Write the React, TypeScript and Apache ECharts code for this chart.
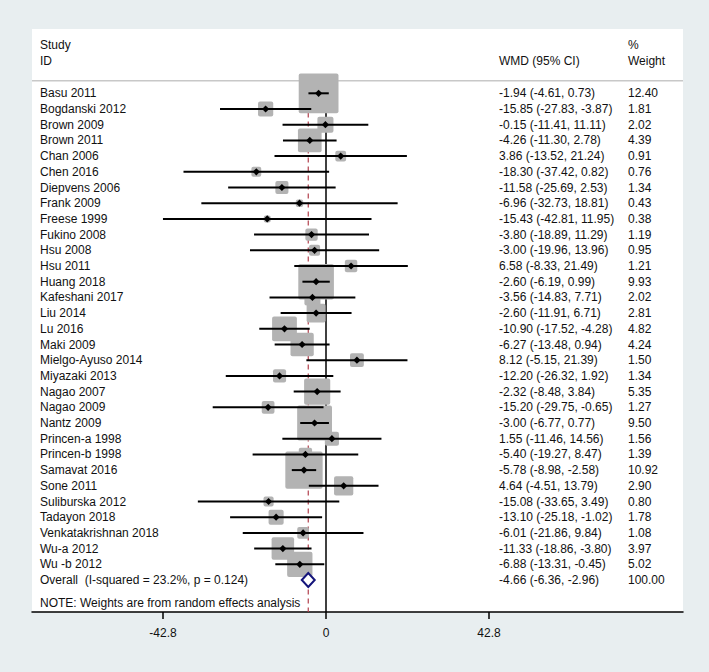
import React, { useEffect, useRef } from "react";
import * as echarts from "echarts";

// ---------- data ----------
const studies = [
  "Basu 2011", "Bogdanski 2012", "Brown 2009", "Brown 2011", "Chan 2006", "Chen 2016",
  "Diepvens 2006", "Frank 2009", "Freese 1999", "Fukino 2008", "Hsu 2008", "Hsu 2011",
  "Huang 2018", "Kafeshani 2017", "Liu 2014", "Lu 2016", "Maki 2009", "Mielgo-Ayuso 2014",
  "Miyazaki 2013", "Nagao 2007", "Nagao 2009", "Nantz 2009", "Princen-a 1998", "Princen-b 1998",
  "Samavat 2016", "Sone 2011", "Suliburska 2012", "Tadayon 2018", "Venkatakrishnan 2018",
  "Wu-a 2012", "Wu -b 2012",
];
const wmd = [
  -1.94, -15.85, -0.15, -4.26, 3.86, -18.30, -11.58, -6.96, -15.43, -3.80, -3.00, 6.58,
  -2.60, -3.56, -2.60, -10.90, -6.27, 8.12, -12.20, -2.32, -15.20, -3.00, 1.55, -5.40,
  -5.78, 4.64, -15.08, -13.10, -6.01, -11.33, -6.88,
];
const ciLow = [
  -4.61, -27.83, -11.41, -11.30, -13.52, -37.42, -25.69, -32.73, -42.81, -18.89, -19.96, -8.33,
  -6.19, -14.83, -11.91, -17.52, -13.48, -5.15, -26.32, -8.48, -29.75, -6.77, -11.46, -19.27,
  -8.98, -4.51, -33.65, -25.18, -21.86, -18.86, -13.31,
];
const ciHigh = [
  0.73, -3.87, 11.11, 2.78, 21.24, 0.82, 2.53, 18.81, 11.95, 11.29, 13.96, 21.49,
  0.99, 7.71, 6.71, -4.28, 0.94, 21.39, 1.92, 3.84, -0.65, 0.77, 14.56, 8.47,
  -2.58, 13.79, 3.49, -1.02, 9.84, -3.80, -0.45,
];
const weights = [
  12.40, 1.81, 2.02, 4.39, 0.91, 0.76, 1.34, 0.43, 0.38, 1.19, 0.95, 1.21,
  9.93, 2.02, 2.81, 4.82, 4.24, 1.50, 1.34, 5.35, 1.27, 9.50, 1.56, 1.39,
  10.92, 2.90, 0.80, 1.78, 1.08, 3.97, 5.02,
];
const overallLabel = "Overall  (I-squared = 23.2%, p = 0.124)";
const overallWmd = -4.66;
const overallLow = -6.36;
const overallHigh = -2.96;
const overallWeight = 100.0;
const noteText = "NOTE: Weights are from random effects analysis";
const xTicks = [-42.8, 0, 42.8];

// ---------- layout ----------
const W = 709;
const H = 672;
const PANEL_L = 32;
const PANEL_R = 683;
const PANEL_T = 29;
const PANEL_B = 612;
const ZERO_PX = 326;
const PX_PER_UNIT = (489 - 163) / 85.6;
const X_MIN = -(ZERO_PX - PANEL_L) / PX_PER_UNIT;
const X_MAX = (PANEL_R - ZERO_PX) / PX_PER_UNIT;
const ROW0_PX = 93.3;
const ROW_H = 15.7;
const Y_MIN = -(ROW0_PX - PANEL_T) / ROW_H;
const Y_MAX = Y_MIN + (PANEL_B - PANEL_T) / ROW_H;
const NAME_X = 40;
const CI_X = 499;
const W_X = 628;
const SQ_K = 11.3;
const FONT = '12px "Liberation Sans", Arial, sans-serif';
const TXT = "#111";
const BG = "#e8eef0";

const fmt = (v: number) => v.toFixed(2);
const ciText = (e: number, l: number, h: number) => `${fmt(e)} (${fmt(l)}, ${fmt(h)})`;

export default function App() {
  const ref = useRef<HTMLDivElement>(null);

  useEffect(() => {
    document.body.style.margin = "0";
    if (!ref.current) return;
    const chart = echarts.init(ref.current, null, { renderer: "svg" });
    const n = studies.length;
    const overallRow = n;
    const noteRow = (603.3 - ROW0_PX) / ROW_H;
    const lineTopRow = -0.5;

    const rowData = studies.map((_, i) => [wmd[i], i, weights[i], ciLow[i], ciHigh[i]]);

    const option: any = {
      animation: false,
      backgroundColor: BG,
      grid: {
        left: PANEL_L,
        top: PANEL_T,
        width: PANEL_R - PANEL_L,
        height: PANEL_B - PANEL_T,
        show: true,
        backgroundColor: "#ffffff",
        borderWidth: 0,
      },
      xAxis: {
        type: "value",
        min: X_MIN,
        max: X_MAX,
        splitLine: { show: false },
        axisLine: { show: true, onZero: false, lineStyle: { color: "#000", width: 1.5 } },
        axisTick: { show: true, customValues: xTicks, length: 7, lineStyle: { color: "#000", width: 1.5 } },
        axisLabel: {
          customValues: xTicks,
          formatter: (v: number) => String(v),
          margin: 15,
          fontSize: 12,
          fontFamily: '"Liberation Sans", Arial, sans-serif',
          color: TXT,
        },
      },
      yAxis: { type: "value", inverse: true, min: Y_MIN, max: Y_MAX, show: false },
      graphic: [
        { type: "text", x: NAME_X, y: 45, style: { text: "Study", font: FONT, fill: TXT, verticalAlign: "middle" } },
        { type: "text", x: NAME_X, y: 61, style: { text: "ID", font: FONT, fill: TXT, verticalAlign: "middle" } },
        { type: "text", x: CI_X, y: 61, style: { text: "WMD (95% CI)", font: FONT, fill: TXT, verticalAlign: "middle" } },
        { type: "text", x: W_X, y: 45, style: { text: "%", font: FONT, fill: TXT, verticalAlign: "middle" } },
        { type: "text", x: W_X, y: 61, style: { text: "Weight", font: FONT, fill: TXT, verticalAlign: "middle" } },
        {
          type: "line",
          shape: { x1: PANEL_L, y1: 80.7, x2: PANEL_R, y2: 80.7 },
          style: { stroke: "#c8c8c8", lineWidth: 1.5 },
          z: 0,
        },
      ],
      series: [
        // reference lines: null line and overall estimate
        {
          type: "custom",
          z: 1,
          data: [[0, 0], [overallWmd, 1]],
          renderItem: (params: any, api: any) => {
            const top = api.coord([api.value(0), lineTopRow]);
            const bottomY = PANEL_B;
            const dashed = api.value(1) === 1;
            return {
              type: "line",
              shape: { x1: top[0], y1: top[1], x2: top[0], y2: bottomY },
              style: dashed
                ? { stroke: "#b2404c", lineWidth: 1.2, lineDash: [5, 4] }
                : { stroke: "#000", lineWidth: 1.5 },
            };
          },
        },
        // weight squares
        {
          type: "custom",
          z: 2,
          data: rowData,
          renderItem: (params: any, api: any) => {
            const c = api.coord([api.value(0), api.value(1)]);
            const s = SQ_K * Math.sqrt(api.value(2));
            return {
              type: "rect",
              shape: { x: c[0] - s / 2, y: c[1] - s / 2, width: s, height: s, r: 2 },
              style: { fill: "#b3b3b3" },
            };
          },
        },
        // CI lines and point estimates
        {
          type: "custom",
          z: 3,
          data: rowData,
          renderItem: (params: any, api: any) => {
            const row = api.value(1);
            const l = api.coord([api.value(3), row]);
            const h = api.coord([api.value(4), row]);
            const c = api.coord([api.value(0), row]);
            const d = 3.6;
            return {
              type: "group",
              children: [
                { type: "line", shape: { x1: l[0], y1: l[1], x2: h[0], y2: h[1] }, style: { stroke: "#000", lineWidth: 2 } },
                {
                  type: "polygon",
                  shape: { points: [[c[0] - d, c[1]], [c[0], c[1] - d], [c[0] + d, c[1]], [c[0], c[1] + d]] },
                  style: { fill: "#000" },
                },
              ],
            };
          },
        },
        // overall diamond
        {
          type: "custom",
          z: 4,
          data: [[overallWmd, overallRow, overallLow, overallHigh]],
          renderItem: (params: any, api: any) => {
            const row = api.value(1);
            const l = api.coord([api.value(2), row]);
            const h = api.coord([api.value(3), row]);
            const c = api.coord([api.value(0), row]);
            const hh = 7;
            return {
              type: "polygon",
              shape: { points: [[l[0], l[1]], [c[0], c[1] - hh], [h[0], h[1]], [c[0], c[1] + hh]] },
              style: { fill: "#fff", stroke: "#14147a", lineWidth: 2 },
            };
          },
        },
        // row texts
        {
          type: "custom",
          z: 5,
          data: [...rowData.map((r) => [0, r[1]]), [0, overallRow], [0, noteRow]],
          renderItem: (params: any, api: any) => {
            const i = params.dataIndex;
            const y = api.coord([0, api.value(1)])[1];
            const st = (text: string, x: number) => ({
              type: "text",
              x,
              y,
              style: { text, font: FONT, fill: TXT, verticalAlign: "middle", align: "left" },
            });
            if (i < n) {
              return {
                type: "group",
                children: [
                  st(studies[i], NAME_X),
                  st(ciText(wmd[i], ciLow[i], ciHigh[i]), CI_X),
                  st(fmt(weights[i]), W_X),
                ],
              };
            }
            if (i === n) {
              return {
                type: "group",
                children: [
                  st(overallLabel, NAME_X),
                  st(ciText(overallWmd, overallLow, overallHigh), CI_X),
                  st(fmt(overallWeight), W_X),
                ],
              };
            }
            return st(noteText, NAME_X);
          },
        },
      ],
    };

    chart.setOption(option);
    return () => chart.dispose();
  }, []);

  return <div ref={ref} style={{ width: W, height: H }} />;
}
